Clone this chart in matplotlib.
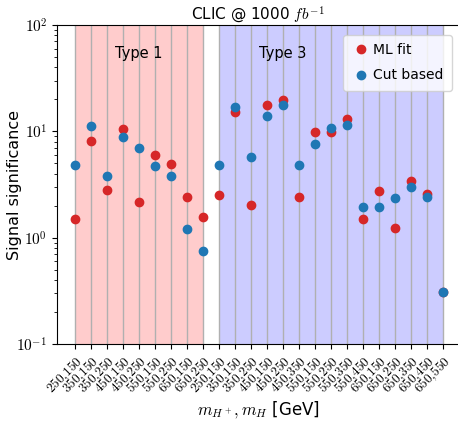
import numpy as np
import matplotlib
matplotlib.use("Agg")
import matplotlib.pyplot as plt
from matplotlib.ticker import LogLocator, NullFormatter

plt.rcParams['mathtext.fontset'] = 'cm'
plt.rcParams['font.family'] = ['DejaVu Sans']

type1_labels = ["250,150", "350,150", "350,250", "450,150", "450,250",
                "550,150", "550,250", "650,150", "650,250"]
type3_labels = ["250,150", "350,150", "350,250", "450,150", "450,250", "450,350",
                "550,150", "550,250", "550,350", "550,450",
                "650,150", "650,250", "650,350", "650,450", "650,550"]
labels = type1_labels + type3_labels

ml_fit = [1.50, 8.1, 2.8, 10.5, 2.16, 6.0, 4.9, 2.4, 1.57,
          2.52, 15.3, 2.03, 17.6, 19.7, 2.43, 9.9, 9.9, 13.1, 1.50, 2.74, 1.24, 3.41, 2.55, 0.31]
cut_based = [4.8, 11.2, 3.8, 8.8, 7.0, 4.7, 3.8, 1.2, 0.75,
             4.8, 16.8, 5.7, 14.0, 17.6, 4.8, 7.55, 10.8, 11.5, 1.93, 1.93, 2.36, 3.01, 2.41, 0.31]

fig = plt.figure(figsize=(4.58, 4.32), dpi=100)
ax = fig.add_axes([57/458, 1-344/432, 402/458, (344-25)/432])

x = np.arange(len(labels))
n1 = len(type1_labels)
ax.axvspan(0, n1-1, color='red', alpha=0.2, lw=0)
ax.axvspan(n1, len(labels)-1, color='blue', alpha=0.2, lw=0)
for xi in x:
    ax.axvline(xi, color='#b0b0b0', lw=1, zorder=1)

ax.plot(x, ml_fit, 'o', color='#d62728', ms=6, label='ML fit', zorder=3)
ax.plot(x, cut_based, 'o', color='#1f77b4', ms=6, label='Cut based', zorder=4)

ax.set_yscale('log')
ax.set_ylim(0.1, 100)
ax.set_xlim(-1.125, -1.125 + 402/16)
ax.set_yticks([0.1, 1, 10, 100])
ax.set_yticklabels([r'$10^{-1}$', r'$10^{0}$', r'$10^{1}$', r'$10^{2}$'], fontsize=11)
ax.yaxis.set_minor_locator(LogLocator(base=10, subs=np.arange(2, 10)))
ax.yaxis.set_minor_formatter(NullFormatter())
ax.set_xticks(x)
ax.set_xticklabels(['$' + l.replace(',', '{,}') + '$' for l in labels], rotation=45, ha='right',
                   rotation_mode='anchor', fontsize=9.5)
ax.spines['right'].set_visible(False)

ax.text(4, 54, 'Type 1', ha='center', va='center', fontsize=10.5)
ax.text(13, 54, 'Type 3', ha='center', va='center', fontsize=10.5)

ax.set_title(r'CLIC @ 1000 $fb^{-1}$', fontsize=11, pad=4)
ax.set_ylabel('Signal significance', fontsize=11.5)
ax.yaxis.set_label_coords((22-57)/402, 0.5)
ax.set_xlabel(r'$m_{H^+}, m_H$ [GeV]', fontsize=12)
ax.xaxis.set_label_coords(0.5025, (344-399)/319)
ax.legend(loc='upper right', fontsize=10, handletextpad=0.2, borderpad=0.6,
          bbox_to_anchor=((452-57)/402, (344-35)/319), borderaxespad=0,
          framealpha=0.8, handlelength=1.4, labelspacing=0.8)

fig.savefig('out.png', dpi=100)
